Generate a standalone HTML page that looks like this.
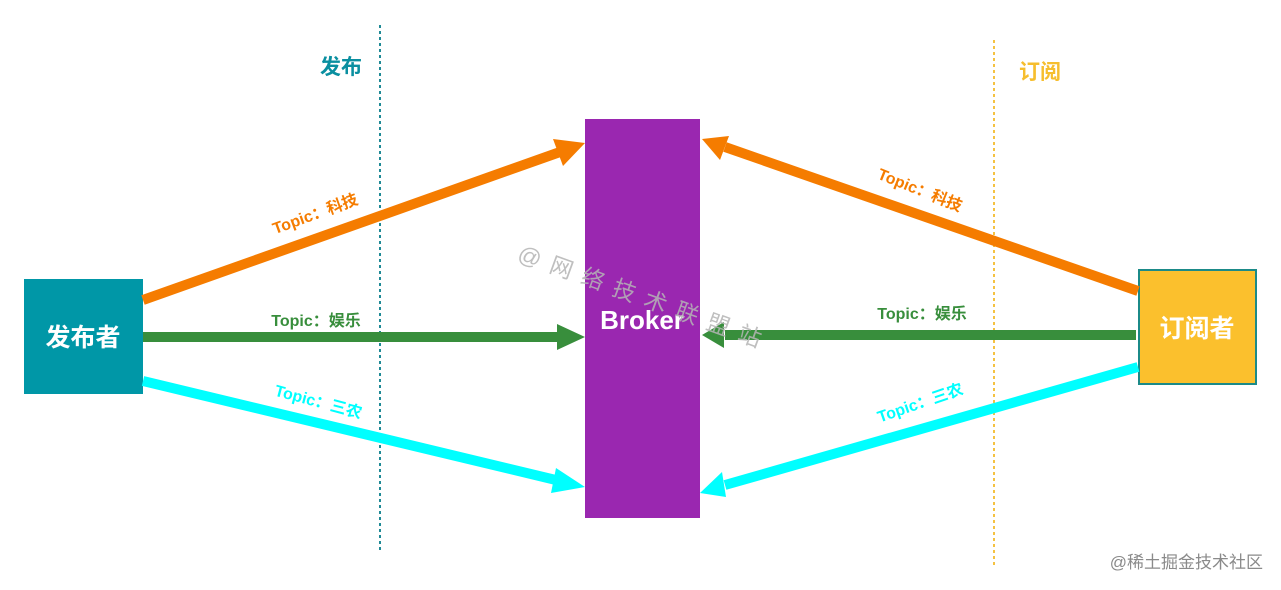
<!DOCTYPE html>
<html><head><meta charset="utf-8"><style>
html,body{margin:0;padding:0;background:#fff;width:1281px;height:590px;overflow:hidden}
text{font-family:"Liberation Sans","Noto Sans CJK SC",sans-serif;font-weight:bold}
</style></head><body>
<svg width="1281" height="590" xmlns="http://www.w3.org/2000/svg">
<line x1="380" y1="25" x2="380" y2="550" stroke="#1f8a96" stroke-width="2" stroke-dasharray="3,3"/>
<line x1="994" y1="40" x2="994" y2="565" stroke="#f5c242" stroke-width="2" stroke-dasharray="3,3"/>
<text x="341" y="74" font-size="21" fill="#0a8fa0" text-anchor="middle">发布</text>
<text x="1040" y="79" font-size="21" fill="#f6be2e" text-anchor="middle">订阅</text>
<rect x="585" y="119" width="115" height="399" fill="#9a27b0"/>
<text x="642" y="329" font-size="26" fill="#fff" text-anchor="middle">Broker</text>
<rect x="24" y="279" width="119" height="115" fill="#0097a7"/>
<text x="83" y="346" font-size="25" fill="#fff" text-anchor="middle">发布者</text>
<rect x="1139" y="270" width="117" height="114" fill="#fbc02d" stroke="#1b8a88" stroke-width="2"/>
<text x="1197" y="337" font-size="25" fill="#fff" text-anchor="middle">订阅者</text>
<line x1="143" y1="300" x2="560" y2="152" stroke="#f57c00" stroke-width="10"/>
<polygon points="585,143 553,139 563,166" fill="#f57c00"/>
<line x1="143" y1="337" x2="560" y2="337" stroke="#388e3c" stroke-width="10"/>
<polygon points="585,337 557,324 557,350" fill="#388e3c"/>
<line x1="143" y1="381" x2="560" y2="481" stroke="#00ffff" stroke-width="10"/>
<polygon points="585,487 556,468 551,493" fill="#00ffff"/>
<line x1="1138" y1="291" x2="725" y2="147" stroke="#f57c00" stroke-width="10"/>
<polygon points="702,139 720,160 729,136" fill="#f57c00"/>
<line x1="1136" y1="335" x2="725" y2="335" stroke="#388e3c" stroke-width="10"/>
<polygon points="702,335 724,322 724,348" fill="#388e3c"/>
<line x1="1138" y1="367" x2="725" y2="485" stroke="#00ffff" stroke-width="10"/>
<polygon points="700,493 722,472 726,497" fill="#00ffff"/>
<text font-size="16" fill="#f57c00" text-anchor="middle" transform="translate(317,219) rotate(-20)">Topic：科技</text>
<text x="316" y="326" font-size="16" fill="#388e3c" text-anchor="middle">Topic：娱乐</text>
<text font-size="16" fill="#00ffff" text-anchor="middle" transform="translate(317,407) rotate(15)">Topic：三农</text>
<text font-size="16" fill="#f57c00" text-anchor="middle" transform="translate(918,195) rotate(22)">Topic：科技</text>
<text x="922" y="319" font-size="16" fill="#388e3c" text-anchor="middle">Topic：娱乐</text>
<text font-size="16" fill="#00ffff" text-anchor="middle" transform="translate(922,408) rotate(-19)">Topic：三农</text>
<text font-size="23" fill="#b5b5b5" style="font-weight:normal" text-anchor="middle" opacity="0.85" letter-spacing="2" transform="translate(638,304) rotate(20)">@ 网 络 技 术 联 盟 站</text>
<text x="1263" y="568" font-size="17" fill="#8a8a8a" style="font-weight:normal" text-anchor="end">@稀土掘金技术社区</text>
</svg>
</body></html>
